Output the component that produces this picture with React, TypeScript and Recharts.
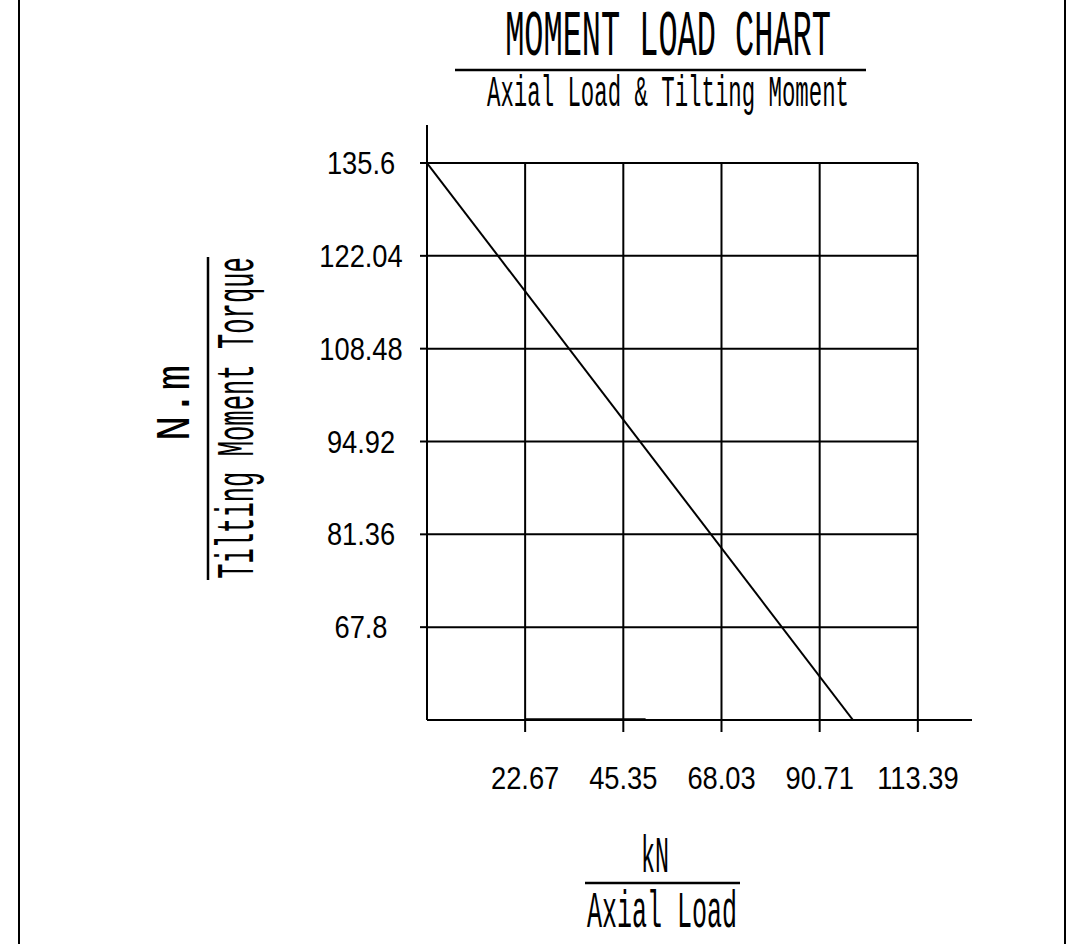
import { LineChart, Line, XAxis, YAxis, ReferenceLine } from "recharts"

// axial load (kN) on x, tilting moment (N.m) on y
const axialTicks = [22.67, 45.35, 68.03, 90.71, 113.39]
const momentTicks = [67.8, 81.36, 94.92, 108.48, 122.04, 135.6]

const curveAxial = [0, 98.4]
const curveMoment = [135.6, 54.24]

const baseAxial = [22.67, 50.5]
const baseMoment = [54.24, 54.24]

const axialDomain = [0, 125.9]
const momentDomain = [54.24, 141.15]

const curveData = curveAxial.map((x, i) => ({ x, y: curveMoment[i] }))
const baseData = baseAxial.map((x, i) => ({ x, y: baseMoment[i] }))

const ink = "#000"
const numFont = "'Liberation Sans', Arial, sans-serif"
const cadFont = "'Liberation Mono', 'DejaVu Sans Mono', monospace"

// digits in the drawing are a bit narrower than Arial, so squeeze them
function XTick(props: any) {
  const { x, y, payload } = props
  return (
    <text transform={`translate(${x},${y}) scale(0.88,1)`} dy="0.71em" textAnchor="middle"
      fontFamily={numFont} fontSize={31} fill={ink}>
      {payload.value}
    </text>
  )
}

function YTick(props: any) {
  const { x, y, payload } = props
  return (
    <text transform={`translate(${x - 57},${y}) scale(0.88,1)`} dy="0.355em" textAnchor="middle"
      fontFamily={numFont} fontSize={31} fill={ink}>
      {payload.value}
    </text>
  )
}

// narrow CAD-style text: monospace glyphs squeezed to a target width
function CadText({ x, y, size, width, rotate, children }: any) {
  const sx = width / (String(children).length * 0.6 * size)
  const rot = rotate ? ` rotate(${rotate})` : ""
  return (
    <text transform={`translate(${x},${y})${rot} scale(${sx.toFixed(3)},1)`} textAnchor="middle"
      fontFamily={cadFont} fontSize={size} fill={ink}>
      {children}
    </text>
  )
}

function Labels() {
  return (
    <svg
      width={1083}
      height={944}
      style={{ position: "absolute", left: 0, top: 0, pointerEvents: "none" }}
    >
      <line x1={19} y1={0} x2={19} y2={944} stroke={ink} strokeWidth={2} />
      <line x1={1065} y1={0} x2={1065} y2={944} stroke={ink} strokeWidth={2} />

      <CadText x={668} y={55} size={64} width={326}>MOMENT LOAD CHART</CadText>
      <line x1={455} y1={70} x2={866} y2={70} stroke={ink} strokeWidth={2.5} />
      <CadText x={668} y={106} size={44} width={362}>Axial Load & Tilting Moment</CadText>

      <CadText x={189} y={403} size={48} width={76} rotate={-90}>N.m</CadText>
      <line x1={208} y1={257} x2={208} y2={580} stroke={ink} strokeWidth={2.5} />
      <CadText x={253} y={418} size={54} width={322} rotate={-90}>Tilting Moment Torque</CadText>

      <CadText x={655} y={872} size={52} width={28}>kN</CadText>
      <line x1={585} y1={883} x2={740} y2={883} stroke={ink} strokeWidth={2.5} />
      <CadText x={662} y={927} size={52} width={150}>Axial Load</CadText>
    </svg>
  )
}

export default function App() {
  return (
    <div style={{ position: "absolute", left: 0, top: 0, width: 1083, height: 944, background: "#fff" }}>
      <LineChart width={1083} height={944} margin={{ top: 125, right: 111, bottom: 164, left: 0 }}>
        <XAxis
          type="number"
          dataKey="x"
          domain={axialDomain}
          ticks={axialTicks}
          allowDataOverflow
          axisLine={{ stroke: ink, strokeWidth: 2 }}
          tickLine={{ stroke: ink, strokeWidth: 2 }}
          tickSize={12}
          tickMargin={35}
          height={60}
          tick={<XTick />}
        />
        <YAxis
          type="number"
          dataKey="y"
          domain={momentDomain}
          ticks={momentTicks}
          allowDataOverflow
          axisLine={{ stroke: ink, strokeWidth: 2 }}
          tickLine={{ stroke: ink, strokeWidth: 2 }}
          tickSize={7}
          width={427}
          tick={<YTick />}
        />
        {momentTicks.map((m) => (
          <ReferenceLine
            key={"h" + m}
            segment={[{ x: 0, y: m }, { x: axialTicks[axialTicks.length - 1], y: m }]}
            stroke={ink}
            strokeWidth={2}
          />
        ))}
        {axialTicks.map((a) => (
          <ReferenceLine
            key={"v" + a}
            segment={[{ x: a, y: momentDomain[0] }, { x: a, y: momentTicks[momentTicks.length - 1] }]}
            stroke={ink}
            strokeWidth={2}
          />
        ))}
        <Line
          data={baseData}
          dataKey="y"
          stroke={ink}
          strokeWidth={3.5}
          dot={false}
          isAnimationActive={false}
        />
        <Line
          data={curveData}
          dataKey="y"
          stroke={ink}
          strokeWidth={2}
          dot={false}
          isAnimationActive={false}
        />
      </LineChart>
      <Labels />
    </div>
  )
}
